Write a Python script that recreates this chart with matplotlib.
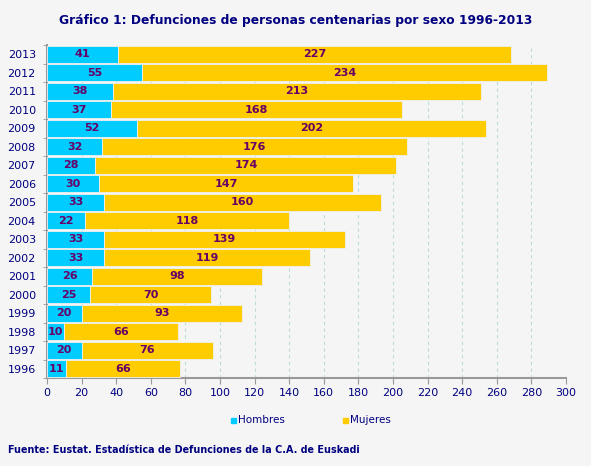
import matplotlib.pyplot as plt
import numpy as np

years = list(range(1996, 2014))
hombres = [11, 20, 10, 20, 25, 26, 33, 33, 22, 33, 30, 28, 32, 52, 37, 38, 55, 41]
mujeres = [66, 76, 66, 93, 70, 98, 119, 139, 118, 160, 147, 174, 176, 202, 168, 213, 234, 227]
xticks = list(range(0, 301, 20))

bg = '#f5f5f5'
navy = '#000080'
c_h = '#00ccff'
c_m = '#ffcc00'
lab_col = '#660066'

fig = plt.figure(figsize=(5.91, 4.66), dpi=100, facecolor=bg)
ax = fig.add_axes([0.0795, 0.1888, 0.8782, 0.7146])
ax.set_facecolor(bg)

y = np.arange(len(years))
ax.barh(y, hombres, height=0.9, color=c_h, edgecolor='#f0f0f0', linewidth=0.6, zorder=3)
ax.barh(y, mujeres, left=hombres, height=0.9, color=c_m, edgecolor='#f0f0f0', linewidth=0.6, zorder=3)

for i in range(len(years)):
    ax.text(hombres[i] / 2, y[i], str(hombres[i]), ha='center', va='center',
            fontsize=8, fontweight='bold', color=lab_col, zorder=4)
    ax.text(hombres[i] + mujeres[i] / 2, y[i], str(mujeres[i]), ha='center', va='center',
            fontsize=8, fontweight='bold', color=lab_col, zorder=4)

ax.set_xlim(0, 300)
ax.set_ylim(-0.5, len(years) - 0.5)
ax.set_xticks(xticks)
ax.set_yticks(y)
ax.set_yticks(np.arange(-0.5, len(years), 1), minor=True)
ax.set_yticklabels([str(v) for v in years])
ax.tick_params(axis='both', colors='#999999', labelcolor=navy, labelsize=8, length=4)
ax.tick_params(axis='y', which='major', length=0, pad=8)
ax.tick_params(axis='y', which='minor', length=3, color='#999999')
ax.grid(axis='x', color='#bcdcd8', linestyle=(0, (3, 3)), linewidth=0.8, zorder=0)
for s in ['top', 'right']:
    ax.spines[s].set_visible(False)
ax.spines['left'].set_color('#999999')
ax.spines['bottom'].set_color('#999999')
ax.spines['left'].set_linewidth(1.5)
ax.spines['bottom'].set_linewidth(1.5)

fig.text(0.5, 0.956, 'Gráfico 1: Defunciones de personas centenarias por sexo 1996-2013',
         ha='center', va='center', fontsize=8.8, fontweight='bold', color=navy)

# legend
fig.patches.append(plt.Rectangle((231 / 591, 1 - 423 / 466), 5 / 591, 5 / 466,
                                 transform=fig.transFigure, color=c_h, figure=fig))
fig.text(238 / 591, 1 - 420 / 466, 'Hombres', ha='left', va='center', fontsize=7.5, color=navy)
fig.patches.append(plt.Rectangle((343 / 591, 1 - 423 / 466), 5 / 591, 5 / 466,
                                 transform=fig.transFigure, color=c_m, figure=fig))
fig.text(350 / 591, 1 - 420 / 466, 'Mujeres', ha='left', va='center', fontsize=7.5, color=navy)

fig.text(8 / 591, 1 - 450 / 466, 'Fuente: Eustat. Estadística de Defunciones de la C.A. de Euskadi',
         ha='left', va='center', fontsize=6.9, fontweight='bold', color=navy)

fig.savefig('out.png', dpi=100, facecolor=bg)
